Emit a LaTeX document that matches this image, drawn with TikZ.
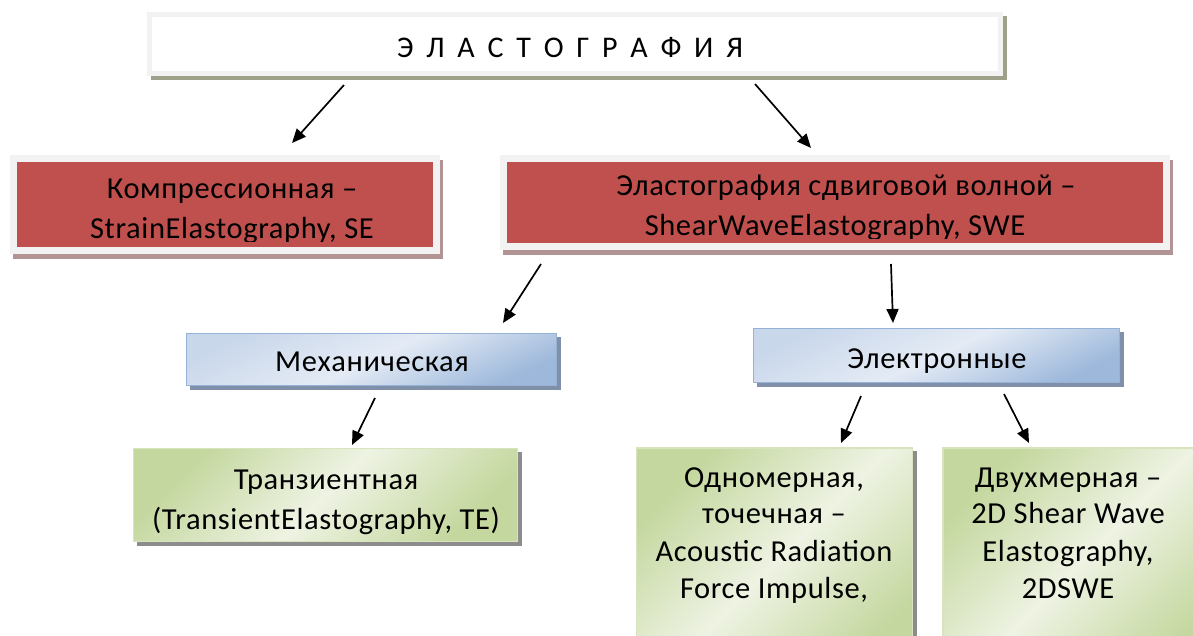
\documentclass[tikz,border=0pt]{standalone}
\usepackage{fontspec}
\setmainfont{Carlito}[LetterSpace=2]
\newfontfamily\titlefont[LetterSpace=20]{Carlito}
\usetikzlibrary{shadows,arrows.meta}
\definecolor{redfill}{HTML}{C0504D}
\definecolor{framegray}{HTML}{F2F2F2}
\definecolor{topshadow}{HTML}{9EA08A}
\definecolor{redshadow}{HTML}{B39494}
\definecolor{bluelight}{HTML}{E4EBF5}
\definecolor{bluemid}{HTML}{C9D7EB}
\definecolor{bluedark}{HTML}{9DB8DB}
\definecolor{blueborder}{HTML}{95B3D7}
\definecolor{blueshadow}{HTML}{8090A8}
\definecolor{greenlight}{HTML}{EEF3E3}
\definecolor{greendark}{HTML}{C4D79E}
\definecolor{greenborder}{HTML}{D7E4BD}
\definecolor{greenshadow}{HTML}{8C8C8C}
\begin{document}
\begin{tikzpicture}[x=1pt,y=-1pt,
  box/.style={rectangle, inner sep=0pt, outer sep=0pt},
  topbox/.style={box, fill=white, draw=framegray, line width=5pt,
    general shadow={fill=topshadow, draw=topshadow, line width=5pt, shadow xshift=4pt, shadow yshift=-4pt}},
  redbox/.style={box, fill=redfill, draw=framegray, line width=7pt,
    general shadow={fill=redshadow, draw=redshadow, line width=7pt, shadow xshift=3pt, shadow yshift=-5pt}},
  bluebox/.style={box, draw=blueborder, line width=1.5pt,
    left color=bluemid, right color=bluedark, middle color=bluelight, shading angle=25,
    general shadow={fill=blueshadow, draw=blueshadow, line width=1.5pt, shadow xshift=4pt, shadow yshift=-4pt}},
  greenbox/.style={box, draw=greenborder, line width=1.5pt,
    left color=greendark, right color=greendark, middle color=greenlight, shading angle=45,
    general shadow={fill=greenshadow, draw=greenshadow, line width=1.5pt, shadow xshift=4pt, shadow yshift=-4pt}},
  txt/.style={inner sep=0pt, anchor=base, font=\fontsize{30.5}{36}\selectfont},
  arr/.style={line width=1.7pt, -{Triangle[length=14pt,width=12pt]}}
]
\useasboundingbox (0,0) rectangle (1193,636);
% boxes
\node[topbox, minimum width=851pt, minimum height=59pt] (top) at (575,44) {};
\node[txt, font=\titlefont\fontsize{30}{34}\selectfont] (toptxt) at (570,58) {Э Л А С Т О Г Р А Ф И Я};

\node[redbox, minimum width=423pt, minimum height=92pt] (red1) at (225,205) {};
\node[redbox, minimum width=663pt, minimum height=88pt] (red2) at (835,202.5) {};
\begin{scope}
  \clip (16.5,161.5) rectangle (433.5,241.5);
  \node[txt] (r1a) at (232,199) {Компрессионная –};
  \node[txt] (r1b) at (232,239) {StrainElastography, SE};
\end{scope}
\begin{scope}
  \clip (507,162) rectangle (1163,238.5);
  \node[txt] (r2a) at (846,196) {Эластография сдвиговой волной –};
  \node[txt] (r2b) at (835,236) {ShearWaveElastography, SWE};
\end{scope}

\node[bluebox, minimum width=370pt, minimum height=52pt] (blue1) at (371.5,359.5) {};
\node[txt] (b1) at (372,371) {Механическая};
\node[bluebox, minimum width=366pt, minimum height=54pt] (blue2) at (936.5,355.5) {};
\node[txt] (b2) at (937,368) {Электронные};

\node[greenbox, minimum width=384pt, minimum height=93pt] (green1) at (325.5,495) {};
\node[txt] (g1a) at (326,489) {Транзиентная};
\node[txt] (g1b) at (326,529) {(TransientElastography, TE)};

\node[greenbox, minimum width=276pt, minimum height=230pt] (green2) at (774.5,563) {};
\node[txt] (g2a) at (774,487) {Одномерная,};
\node[txt] (g2b) at (774,523) {точечная –};
\node[txt] (g2c) at (774,561) {Acoustic Radiation};
\node[txt] (g2d) at (774,598) {Force Impulse,};

\node[greenbox, minimum width=276pt, minimum height=230pt] (green3) at (1081,563) {};
\node[txt] (g3a) at (1068,487) {Двухмерная –};
\node[txt] (g3b) at (1068,523) {2D Shear Wave};
\node[txt] (g3c) at (1068,561) {Elastography,};
\node[txt] (g3d) at (1068,598) {2DSWE};

% arrow end points
\coordinate (a1s) at (344,85);  \coordinate (a1e) at (292,143);
\coordinate (a2s) at (755,84);  \coordinate (a2e) at (811,148);
\coordinate (a3s) at (541,264); \coordinate (a3e) at (503,323);
\coordinate (a4s) at (891,264); \coordinate (a4e) at (893,323);
\coordinate (a5s) at (375,398); \coordinate (a5e) at (352,445);
\coordinate (a6s) at (861,396); \coordinate (a6e) at (841,443);
\coordinate (a7s) at (1004,394); \coordinate (a7e) at (1029,443);
\draw[arr] (a1s) -- (a1e);
\draw[arr] (a2s) -- (a2e);
\draw[arr] (a3s) -- (a3e);
\draw[arr] (a4s) -- (a4e);
\draw[arr] (a5s) -- (a5e);
\draw[arr] (a6s) -- (a6e);
\draw[arr] (a7s) -- (a7e);
\end{tikzpicture}
\end{document}
